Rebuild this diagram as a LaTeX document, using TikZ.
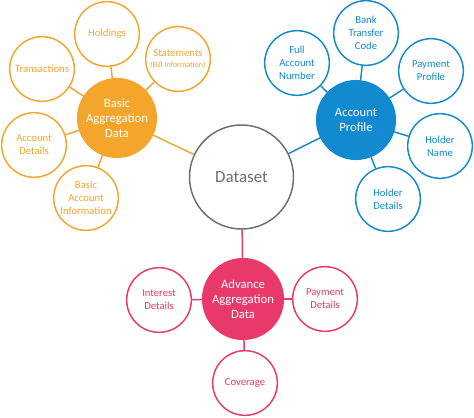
\documentclass[tikz,border=0pt]{standalone}
\usepackage{fontspec}
\setmainfont{Carlito}
\definecolor{cOr}{HTML}{F4A52B}
\definecolor{cBl}{HTML}{118ACF}
\definecolor{cPk}{HTML}{E8396A}
\definecolor{cGr}{HTML}{6E6E6E}
\begin{document}
\begin{tikzpicture}[x=0.75pt,y=-0.75pt,
  leaf/.style={circle,draw=#1,line width=1.1pt,fill=white,text=#1,minimum size=48.5pt,inner sep=0pt,align=center,font=\fontsize{8}{9.8}\selectfont},
  hub/.style={circle,draw=#1,line width=1.1pt,fill=#1,text=white,minimum size=59pt,inner sep=0pt,align=center,font=\fontsize{9.5}{11.3}\selectfont},
  link/.style={draw=#1,line width=1.1pt}]
\useasboundingbox (0,0) rectangle (474,417);
% hubs
\node[circle,draw=cGr,line width=1.1pt,fill=white,text=cGr,minimum size=78pt,inner sep=0pt,font=\fontsize{12.7}{15}\selectfont] (ds) at (241.5,177) {Dataset};
\node[hub=cOr] (basic) at (117,118) {Basic\\Aggregation\\Data};
\node[hub=cBl] (prof) at (356,120) {Account\\Profile};
\node[hub=cPk,minimum size=60.5pt] (adv) at (243,299) {Advance\\Aggregation\\Data};
% orange leaves
\node[leaf=cOr] (hold) at (107,34) {Holdings};
\node[leaf=cOr] (trans) at (42,69) {Transactions};
\node[leaf=cOr] (stmt) at (178,59) {Statements\\[-1pt]{\fontsize{6}{7}\selectfont(Bill Information)}};
\node[leaf=cOr] (adet) at (34,145) {Account\\Details};
\node[leaf=cOr] (bai) at (86,198) {Basic\\Account\\Information};
% blue leaves
\node[leaf=cBl] (fan) at (297,63) {Full\\Account\\Number};
\node[leaf=cBl] (btc) at (366,33) {Bank\\Transfer\\Code};
\node[leaf=cBl] (pp) at (431,71) {Payment\\Profile};
\node[leaf=cBl] (hn) at (440,146) {Holder\\Name};
\node[leaf=cBl] (hd) at (388,199) {Holder\\Details};
% pink leaves
\node[leaf=cPk] (intd) at (159,300) {Interest\\Details};
\node[leaf=cPk] (payd) at (325,299) {Payment\\Details};
\node[leaf=cPk] (cov) at (245,383) {Coverage};
% links
\draw[link=cOr] (ds) -- (basic);
\draw[link=cBl] (ds) -- (prof);
\draw[link=cPk] (ds) -- (adv);
\foreach \n in {hold,trans,stmt,adet,bai} \draw[link=cOr] (basic) -- (\n);
\foreach \n in {fan,btc,pp,hn,hd} \draw[link=cBl] (prof) -- (\n);
\foreach \n in {intd,payd,cov} \draw[link=cPk] (adv) -- (\n);
\end{tikzpicture}
\end{document}
